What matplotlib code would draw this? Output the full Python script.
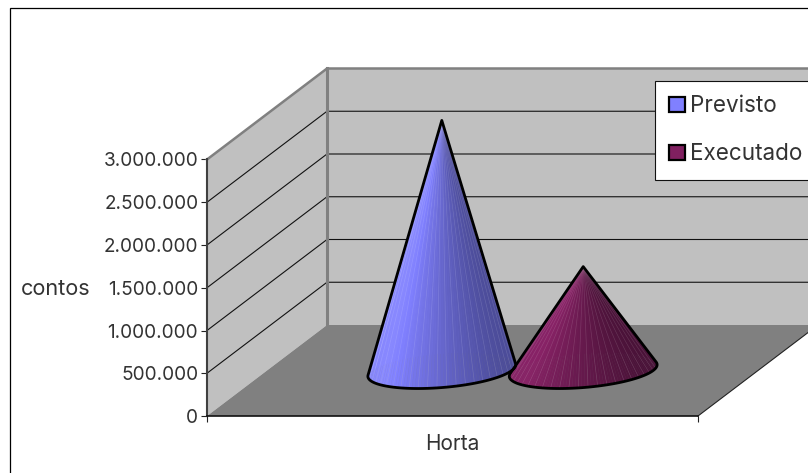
import matplotlib

matplotlib.use("Agg")
import matplotlib.pyplot as plt
import numpy as np
from matplotlib.patches import Patch, Polygon, Rectangle
from matplotlib.ticker import FixedLocator, FuncFormatter

series_names = ["Previsto", "Executado"]
series_values = [2925000, 1215000]
category = "Horta"
value_ticks = [0, 500000, 1000000, 1500000, 2000000, 2500000, 3000000]
value_max = 3000000

base_colors = ["#8080FF", "#802060"]
shade_colors = ["#4C4C99", "#4A1238"]

WALL = "#C0C0C0"
FLOOR = "#808080"
TEXT = "#333333"

WIDTH, HEIGHT = 808, 473
AX_LEFT, AX_RIGHT, AX_TOP, AX_BOTTOM = 207, 698, 159.5, 416
DEPTH_X, DEPTH_Y = 120, 91

plt.rcParams["font.family"] = ["Inter", "DejaVu Sans"]
plt.rcParams["font.size"] = 13.7
plt.rcParams["text.color"] = TEXT
plt.rcParams["axes.labelcolor"] = TEXT


def project(x, depth, value):
    # oblique view: depth slides everything up and to the right
    shift_x = depth * DEPTH_X / (AX_RIGHT - AX_LEFT)
    shift_v = depth * DEPTH_Y / (AX_BOTTOM - AX_TOP) * value_max
    return x + shift_x, value + shift_v


def draw_cone(ax, x, depth, value, base, shade, n_facets=144):
    radius_x = 70 / (AX_RIGHT - AX_LEFT)
    radius_d = 0.198
    theta = np.linspace(0, 2 * np.pi, n_facets + 1)
    ring_x, ring_y = project(
        x + radius_x * np.cos(theta), depth + radius_d * np.sin(theta), 0
    )
    tip_x, tip_y = project(x, depth, value)

    base_rgb = np.array(matplotlib.colors.to_rgb(base))
    shade_rgb = np.array(matplotlib.colors.to_rgb(shade))

    # back facets first, so the front of the cone ends up on top
    order = np.argsort(-np.sin(theta[:-1] + np.pi / n_facets))
    for i in order:
        mix = np.clip((np.cos(theta[i] + np.pi / n_facets) + 0.35) / 1.35, -0.15, 1)
        color = np.clip(base_rgb + (shade_rgb - base_rgb) * mix, 0, 1)
        ax.add_patch(
            Polygon(
                [(tip_x, tip_y), (ring_x[i], ring_y[i]), (ring_x[i + 1], ring_y[i + 1])],
                facecolor=color,
                edgecolor=color,
                linewidth=0.3,
                clip_on=False,
                zorder=5,
            )
        )
    # pale seams between the facets on the visible side
    for i in range(0, n_facets, 3):
        if np.sin(theta[i]) < 0.2:
            ax.plot(
                [tip_x, ring_x[i]],
                [tip_y, ring_y[i]],
                color="white",
                alpha=0.13,
                linewidth=0.5,
                clip_on=False,
                zorder=6,
            )

    # silhouette: apex plus the front arc between the two tangent points
    pts = np.column_stack([ring_x, ring_y])[:-1]
    to_px = ax.transData.transform(pts)
    tip_px = ax.transData.transform((tip_x, tip_y))
    angles = np.arctan2(to_px[:, 0] - tip_px[0], tip_px[1] - to_px[:, 1])
    left, right = np.argmin(angles), np.argmax(angles)
    arc = []
    i = left
    while i != right:
        arc.append(pts[i])
        i = (i + 1) % n_facets
    arc.append(pts[right])
    ax.add_patch(
        Polygon(
            [(tip_x, tip_y)] + arc,
            closed=True,
            fill=False,
            edgecolor="black",
            linewidth=2.0,
            joinstyle="round",
            clip_on=False,
            zorder=7,
        )
    )


fig = plt.figure(figsize=(WIDTH / 100, HEIGHT / 100), dpi=100)
ax = fig.add_axes(
    [
        AX_LEFT / WIDTH,
        1 - AX_BOTTOM / HEIGHT,
        (AX_RIGHT - AX_LEFT) / WIDTH,
        (AX_BOTTOM - AX_TOP) / HEIGHT,
    ]
)
ax.set_xlim(0, 1)
ax.set_ylim(0, value_max)
ax.patch.set_visible(False)

# outer chart frame runs off the right and bottom edges
frame_top = 1 - 8.5 / HEIGHT
fig.add_artist(
    Rectangle(
        (10.0 / WIDTH, -0.1),
        1.1,
        frame_top + 0.1,
        transform=fig.transFigure,
        fill=False,
        edgecolor="black",
        linewidth=0.9,
    )
)

# walls and floor
side_wall = [project(0, d, v) for d, v in [(0, 0), (1, 0), (1, value_max), (0, value_max)]]
back_wall = [project(x, 1, v) for x, v in [(0, 0), (1, 0), (1, value_max), (0, value_max)]]
floor = [project(x, d, 0) for x, d in [(0, 0), (1, 0), (1, 1), (0, 1)]]
ax.add_patch(Polygon(side_wall, facecolor=WALL, edgecolor="none", clip_on=False, zorder=1))
ax.add_patch(Polygon(back_wall, facecolor=WALL, edgecolor="none", clip_on=False, zorder=1))
ax.add_patch(Polygon(floor, facecolor=FLOOR, edgecolor="none", clip_on=False, zorder=1.1))

for v in value_ticks[1:-1]:
    pts = [project(0, 0, v), project(0, 1, v), project(1, 1, v)]
    ax.plot(*zip(*pts), color="#111111", linewidth=0.8, clip_on=False, zorder=2)

# grey edges around the walls
edge = [project(0, 0, value_max), project(0, 1, value_max), project(1, 1, value_max)]
ax.plot(*zip(*edge), color=FLOOR, linewidth=1.8, clip_on=False, zorder=2.2)
corner = [project(0, 1, 0), project(0, 1, value_max)]
ax.plot(*zip(*corner), color=FLOOR, linewidth=2.2, clip_on=False, zorder=2.2)
ax.plot(
    *zip(project(1, 0, 0), project(1, 1, 0)),
    color="#222222",
    linewidth=0.8,
    clip_on=False,
    zorder=2.2,
)

# two cones, either side of the category centre, halfway into the depth
for x, value, base, shade in zip([0.356, 0.644], series_values, base_colors, shade_colors):
    draw_cone(ax, x, 0.5, value, base, shade)

# axes
for name in ["top", "right"]:
    ax.spines[name].set_visible(False)
ax.spines["left"].set_color("#404040")
ax.spines["left"].set_linewidth(1.5)
ax.spines["bottom"].set_color("#111111")
ax.spines["bottom"].set_linewidth(1.2)

ax.yaxis.set_major_locator(FixedLocator(value_ticks))
ax.yaxis.set_major_formatter(FuncFormatter(lambda v, _: f"{int(v):,}".replace(",", ".")))
ax.tick_params(axis="y", length=4.3, width=0.8, pad=2, labelcolor=TEXT, color="#222222")
ax.set_ylabel("contos", rotation=0, ha="right", va="center", fontsize=15.6)
ax.yaxis.set_label_coords((90 - AX_LEFT) / (AX_RIGHT - AX_LEFT), 0.495)

ax.set_xticks([0, 1])
ax.set_xticklabels(["", ""])
ax.set_xticks([0.5], labels=[category], minor=True)
ax.tick_params(axis="x", which="major", length=4.3, width=0.8, color="#222222")
ax.tick_params(axis="x", which="minor", length=0, pad=13, labelcolor=TEXT, labelsize=15)

handles = [
    Patch(facecolor=c, edgecolor="black", linewidth=1.6, label=n)
    for c, n in zip(base_colors, series_names)
]
legend = fig.legend(
    handles=handles,
    loc="upper left",
    bbox_to_anchor=(654.5 / WIDTH, 1 - 80.5 / HEIGHT),
    borderaxespad=0,
    frameon=True,
    fancybox=False,
    framealpha=1,
    edgecolor="#111111",
    facecolor="white",
    fontsize=16.2,
    borderpad=0.66,
    labelspacing=1.15,
    handlelength=0.68,
    handleheight=0.68,
    handletextpad=0.24,
)
legend.get_frame().set_linewidth(0.8)
legend.set_zorder(10)

fig.savefig("out.png", dpi=100)
